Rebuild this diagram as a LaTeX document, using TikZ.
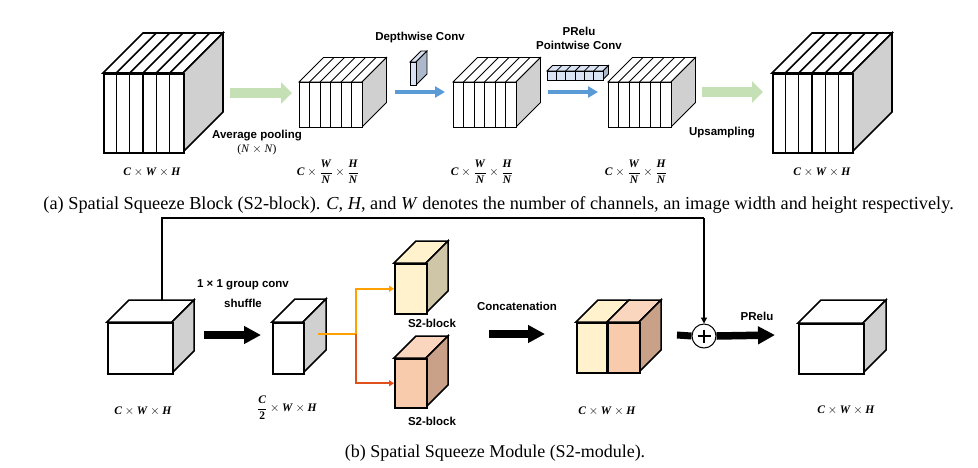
\documentclass[tikz,border=0pt]{standalone}
\usepackage{fontspec}
\setmainfont{Liberation Serif}
\newfontfamily\lab{Liberation Sans}
\usetikzlibrary{arrows.meta,calc}
\definecolor{sidegray}{HTML}{D0D0D0}
\definecolor{gArrow}{HTML}{C5E0B4}
\definecolor{bArrow}{HTML}{5B9BD5}
\definecolor{dwFront}{HTML}{DAE3F3}
\definecolor{dwSide}{HTML}{ADB9CA}
\definecolor{yFront}{HTML}{FFF2CC}
\definecolor{ySide}{HTML}{CFC6A8}
\definecolor{pFront}{HTML}{F8CBAD}
\definecolor{pSide}{HTML}{C9A189}
\definecolor{pTop}{HTML}{FAD6BF}
\definecolor{orA}{HTML}{FFA000}
\definecolor{orB}{HTML}{E0501A}
\newcommand\bi[1]{\textbf{\textit{#1}}}
% name, x, y (front top-left), w, h, d, front, side, top
\newcommand\cube[9]{%
  \filldraw[fill=#9] (#2,#3) -- ++(#6,-#6) -- ++(#4,0) -- ++(-#6,#6) -- cycle;
  \filldraw[fill=#8] (#2+#4,#3) -- ++(#6,-#6) -- ++(0,#5) -- ++(-#6,#6) -- cycle;
  \node[draw, fill=#7, inner sep=0pt, minimum width=#4pt, minimum height=#5pt, anchor=north west] (#1) at (#2,#3) {};
}
% x, y, w, h, d : six slices
\newcommand\slices[5]{%
  \foreach \i in {1,...,5}{
    \draw ({#1+\i*#3/6},#2) -- ++(0,#4);
    \draw ({#1+\i*#3/6},#2) -- ++(#5,-#5);
  }%
}
\tikzset{
  lbl/.style={font=\lab\bfseries\fontsize{11.5}{13}\selectfont, inner sep=0pt},
  mlbl/.style={font=\fontsize{11.5}{13}\selectfont, inner sep=0pt},
  captxt/.style={font=\fontsize{18}{21}\selectfont, inner sep=0pt},
  greenarrow/.style={draw=gArrow, line width=9.5pt, -{Triangle[length=11pt,width=21pt]}},
  bluearrow/.style={draw=bArrow, line width=3.5pt, -{Triangle[length=10pt,width=11pt]}},
  blackarrow/.style={draw=black, line width=7.5pt, -{Triangle[length=17pt,width=17pt]}},
  orarrow/.style={line width=1.8pt, -{Triangle[length=5pt,width=6pt]}},
}
\begin{document}
\begin{tikzpicture}[x=1pt,y=-1pt]
\useasboundingbox[fill=white] (0,0) rectangle (978,467);

%%%%% (a) top row
\begin{scope}[line width=1.6pt]
  \cube{a1}{103}{73}{80}{79}{40}{white}{sidegray}{white}
  \slices{103}{73}{80}{79}{40}
  \cube{a5}{772}{73}{80}{79}{40}{white}{sidegray}{white}
  \slices{772}{73}{80}{79}{40}
\end{scope}
\begin{scope}[line width=0.8pt]
  \cube{a2}{299}{82}{63}{45}{24.5}{white}{sidegray}{white}
  \slices{299}{82}{63}{45}{24.5}
  \cube{a3}{453}{82}{63}{45}{24.5}{white}{sidegray}{white}
  \slices{453}{82}{63}{45}{24.5}
  \cube{a4}{608}{82}{63}{45}{24.5}{white}{sidegray}{white}
  \slices{608}{82}{63}{45}{24.5}
  \cube{dw}{410}{62}{6}{23}{11}{dwFront}{dwSide}{dwFront}
  \cube{pw}{547}{71}{56}{8.5}{5.5}{dwFront}{dwSide}{dwFront}
  \slices{547}{71}{56}{8.5}{5.5}
\end{scope}

\coordinate (g1s) at (230,93); \coordinate (g1e) at (292,93);
\coordinate (g2s) at (702,92); \coordinate (g2e) at (763,92);
\coordinate (b1s) at (395,92); \coordinate (b1e) at (445,92);
\coordinate (b2s) at (548,92); \coordinate (b2e) at (598,92);
\draw[greenarrow] (g1s) -- (g1e);
\draw[greenarrow] (g2s) -- (g2e);
\draw[bluearrow] (b1s) -- (b1e);
\draw[bluearrow] (b2s) -- (b2e);

\node[lbl] (tavg) at (257,136) {Average pooling};
\node[mlbl] (tnn) at (257,150) {(\textit{N} $\times$ \textit{N})};
\node[lbl] (tdw) at (420,38) {Depthwise Conv};
\node[lbl] (tpr1) at (579,31) {PRelu};
\node[lbl] (tpw) at (579,45) {Pointwise Conv};
\node[lbl] (tup) at (722,133) {Upsampling};

\node[mlbl] (l1) at (152,172) {$\bi{C}\times\bi{W}\times\bi{H}$};
\node[mlbl] (l2) at (328,172) {$\displaystyle\bi{C}\times\frac{\bi{W}}{\bi{N}}\times\frac{\bi{H}}{\bi{N}}$};
\node[mlbl] (l3) at (482,172) {$\displaystyle\bi{C}\times\frac{\bi{W}}{\bi{N}}\times\frac{\bi{H}}{\bi{N}}$};
\node[mlbl] (l4) at (636,172) {$\displaystyle\bi{C}\times\frac{\bi{W}}{\bi{N}}\times\frac{\bi{H}}{\bi{N}}$};
\node[mlbl] (l5) at (822,172) {$\bi{C}\times\bi{W}\times\bi{H}$};

\node[captxt, font=\fontsize{18.3}{21}\selectfont, anchor=east] (capa) at (954,205) {(a) Spatial Squeeze Block (S2-block). \textit{C}, \textit{H}, and \textit{W} denotes the number of channels, an image width and height respectively.};

%%%%% (b) bottom row
\begin{scope}[line width=1.5pt]
  \cube{cA}{107}{322}{65}{51}{22}{white}{sidegray}{white}
  \cube{cB}{272}{322}{31}{51}{23}{white}{sidegray}{white}
  \cube{s2a}{394}{263}{32}{50}{22}{yFront}{ySide}{yFront}
  \cube{s2b}{394}{358}{32}{49}{22}{pFront}{pSide}{pTop}
  \cube{cD}{798}{323}{65}{50}{23}{white}{sidegray}{white}
  % concatenated cube
  \filldraw[fill=yFront] (576,322) -- ++(22,-22) -- ++(31,0) -- ++(-22,22) -- cycle;
  \filldraw[fill=pTop] (607,322) -- ++(22,-22) -- ++(32,0) -- ++(-22,22) -- cycle;
  \filldraw[fill=pSide] (639,322) -- ++(22,-22) -- ++(0,50) -- ++(-22,22) -- cycle;
  \node[draw, fill=yFront, inner sep=0pt, minimum width=31pt, minimum height=50pt, anchor=north west] (cCl) at (576,322) {};
  \node[draw, fill=pFront, inner sep=0pt, minimum width=32pt, minimum height=50pt, anchor=north west] (cCr) at (607,322) {};
  \draw[line width=2.6pt] (cCr.north west) -- (cCr.south west);
\end{scope}

\node[circle, draw, line width=1pt, minimum size=24pt, inner sep=0pt, fill=white] (plus) at (704,336) {};
\draw[line width=1.6pt] ($(plus.center)+(-6.5,0)$) -- ($(plus.center)+(6.5,0)$);
\draw[line width=1.6pt] ($(plus.center)+(0,-6.5)$) -- ($(plus.center)+(0,6.5)$);

% skip connection
\coordinate (skS) at (162,300);
\coordinate (sk1) at (162,218);
\coordinate (sk2) at (704,218);
\draw[line width=2pt] (skS) -- (sk1) -- (sk2);
\draw[line width=1.3pt, -{Triangle[length=6pt,width=6pt]}] (sk2) -- (plus.north);

% black arrows
\coordinate (k1s) at (204,335); \coordinate (k1e) at (261,335);
\coordinate (k2s) at (489,334); \coordinate (k2e) at (545,334);
\coordinate (k3e) at (775,335); \coordinate (k3p) at (677,335);
\draw[blackarrow] (k1s) -- (k1e);
\draw[blackarrow] (k2s) -- (k2e);
\draw[line width=7pt] (k3p) -- (plus.west);
\draw[blackarrow] (plus.east) -- (k3e);

% orange split
\coordinate (os) at (318,334);
\coordinate (oj) at (356,334);
\draw[orA, line width=1.8pt] (os) -- (oj);
\draw[orA, orarrow] (oj) |- (s2a.west);
\draw[orB, orarrow] (oj) |- (s2b.west);

\node[lbl] (tg1) at (243,285) {1 × 1 group conv};
\node[lbl] (tg2) at (243,303) {shuffle};
\node[lbl] (ts1) at (432,323) {S2-block};
\node[lbl] (ts2) at (432,421) {S2-block};
\node[lbl] (tcc) at (517,306) {Concatenation};
\node[lbl] (tpr2) at (757,316) {PRelu};

\node[mlbl] (m1) at (143,411) {$\bi{C}\times\bi{W}\times\bi{H}$};
\node[mlbl] (m2) at (287,408) {$\displaystyle\frac{\bi{C}}{\textbf{2}}\times\bi{W}\times\bi{H}$};
\node[mlbl] (m3) at (607,411) {$\bi{C}\times\bi{W}\times\bi{H}$};
\node[mlbl] (m4) at (846,410) {$\bi{C}\times\bi{W}\times\bi{H}$};

\node[captxt] (capb) at (495,453) {(b) Spatial Squeeze Module (S2-module).};
\end{tikzpicture}
\end{document}
